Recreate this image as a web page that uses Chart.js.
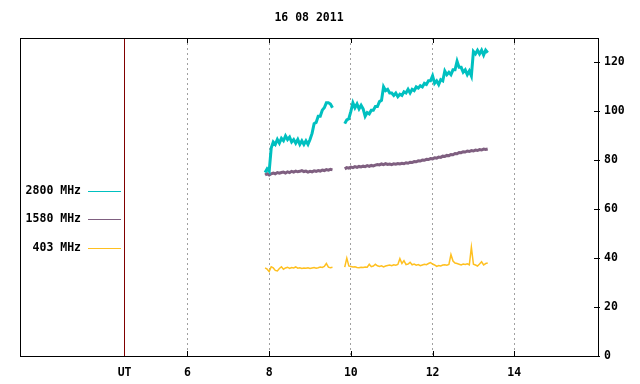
<!DOCTYPE html>
<html>
<head>
<meta charset="utf-8">
<script src="https://cdn.jsdelivr.net/npm/chart.js@4/dist/chart.umd.min.js"></script>
<style>
  html, body { margin: 0; padding: 0; background: #fff; }
  #radioChart { display: block; }
</style>
</head>
<body>
<canvas id="radioChart" width="640" height="384"></canvas>
<script>
const chartTitle = '16 08 2011';
const seriesNames = ['2800 MHz', '1580 MHz', '403 MHz'];
const seriesColors = ['#00c0c0', '#7f5f80', '#ffc020'];
const segStarts = [7.90, 9.85];
const step = 0.05;
const gapAt = 9.7;
const xTicks = [6, 8, 10, 12, 14];
const utPos = 4.46;
const yTicks = [0, 20, 40, 60, 80, 100, 120];

const mhz2800a = [75, 76.5, 75.5, 85, 87.5, 86.5, 88.5, 87, 89, 88,
  90, 88.5, 89.5, 87.5, 88.5, 87, 88.5, 86.5, 88, 86.5,
  88, 86.5, 88.5, 91, 95, 95.5, 98, 98, 100.5, 101.5,
  103.5, 103.5, 103, 101.5];
const mhz2800b = [95, 96.5, 97, 100,
  103.5, 101.5, 103, 101, 102.5, 101, 98, 99.5, 99, 100.5,
  100.5, 102, 102, 104, 104.5, 110, 108.5, 109, 107.5, 107.5,
  106.5, 107.5, 106, 107, 106.5, 108, 107.5, 109, 107.5, 109,
  108.5, 110, 109.5, 110.5, 110, 111.5, 111, 112.5, 112.5, 114.5,
  111.5, 112.5, 111, 113, 112.5, 116.5, 115, 116, 115, 117,
  117, 120.5, 118, 118, 116, 117, 115, 116.5, 114.5, 124.5,
  123.5, 125, 123.5, 125, 123, 125, 124];

const mhz1580a = [74, 74.5, 74, 74.5, 74.8, 74.5, 75, 74.7, 75, 75.2,
  74.8, 75.3, 75, 75.5, 75.2, 75.6, 75.3, 75.5, 75.8, 75.4,
  75.6, 75.2, 75.5, 75.3, 75.7, 75.5, 75.8, 75.6, 76, 75.8,
  76.2, 76, 76.3, 76.1];
const mhz1580b = [76.5, 77, 76.8, 77.2,
  77, 77.4, 77.1, 77.5, 77.3, 77.6, 77.4, 77.8, 77.5, 77.9,
  77.7, 78, 78.3, 78.1, 78.5, 78.2, 78.6, 78.3, 78.5, 78.2,
  78.6, 78.4, 78.7, 78.5, 78.8, 78.6, 79, 78.8, 79.2, 79.1,
  79.5, 79.4, 79.8, 79.7, 80.1, 80, 80.4, 80.3, 80.7, 80.6,
  81, 80.9, 81.3, 81.2, 81.7, 81.6, 82, 81.9, 82.4, 82.3,
  82.8, 82.7, 83.2, 83.1, 83.5, 83.4, 83.8, 83.6, 84, 83.8,
  84.2, 84, 84.4, 84.2, 84.6, 84.4, 84.6];

const mhz403a = [36, 35.5, 34.5, 36.5, 36, 35, 34.8, 35.8, 36.5, 35.5,
  36, 36.3, 35.8, 36.2, 36, 36.4, 35.9, 36.1, 35.8, 36,
  35.9, 36.1, 35.8, 36, 36.2, 35.9, 36.1, 36.4, 36.2, 36.6,
  37.8, 36.3, 36.1, 36.3];
const mhz403b = [36.3, 40, 36.8, 36.6,
  36.4, 36.5, 36.2, 36.1, 36.3, 36.2, 36.4, 36.3, 37.5, 36.5,
  36.8, 37.5, 36.9, 36.6, 36.9, 36.4, 36.8, 37, 37.2, 36.9,
  37.3, 37.1, 37.4, 39.8, 37.8, 39, 37.4, 37.6, 38.3, 37.3,
  37.6, 37.1, 37.4, 36.9, 37.2, 37.5, 37.3, 37.8, 38.2, 37.6,
  37.2, 36.6, 37, 36.8, 37.2, 37.3, 37.1, 37.4, 41.5, 38.8,
  38, 37.8, 37.5, 37.2, 37.6, 37.4, 37.7, 37.3, 44.5, 37.5,
  37.2, 36.8, 37.6, 38.5, 37.2, 37.8, 38];

// join the two segments with a null so the line breaks
function toPoints(a, b) {
  const pts = a.map((v, i) => ({ x: segStarts[0] + i * step, y: v }));
  pts.push({ x: gapAt, y: null });
  b.forEach((v, i) => pts.push({ x: segStarts[1] + i * step, y: v }));
  return pts;
}

const monoFont = { family: 'DejaVu Sans Mono', size: 11.5, weight: 'bold' };

// frame, inward ticks, title and the left-hand legend (gnuplot style)
const gnuplotDecor = {
  id: 'gnuplotDecor',
  afterDraw(chart) {
    const { ctx, chartArea: a, scales } = chart;
    ctx.save();
    ctx.strokeStyle = '#000';
    ctx.lineWidth = 1;
    ctx.strokeRect(Math.round(a.left) + 0.5, Math.round(a.top) + 0.5,
      Math.round(a.right - a.left), Math.round(a.bottom - a.top));

    ctx.beginPath();
    xTicks.forEach(v => {
      const x = Math.round(scales.x.getPixelForValue(v)) + 0.5;
      ctx.moveTo(x, a.bottom); ctx.lineTo(x, a.bottom - 5);
      ctx.moveTo(x, a.top); ctx.lineTo(x, a.top + 5);
    });
    yTicks.forEach(v => {
      const y = Math.round(scales.y.getPixelForValue(v)) + 0.5;
      ctx.moveTo(a.right - 4, y); ctx.lineTo(a.right + 2, y);
    });
    ctx.stroke();

    ctx.font = `bold ${monoFont.size}px ${monoFont.family}`;
    ctx.fillStyle = '#000';
    ctx.textAlign = 'center';
    ctx.textBaseline = 'middle';
    ctx.fillText(chartTitle, (a.left + a.right) / 2, 18);

    const legendY = [191, 219, 248];
    ctx.textAlign = 'right';
    chart.data.datasets.forEach((ds, i) => {
      ctx.fillStyle = '#000';
      ctx.fillText(ds.label, 81, legendY[i]);
      ctx.strokeStyle = ds.borderColor;
      ctx.beginPath();
      ctx.moveTo(88, legendY[i] + 0.5);
      ctx.lineTo(121, legendY[i] + 0.5);
      ctx.stroke();
    });
    ctx.restore();
  }
};

const ctx = document.getElementById('radioChart').getContext('2d');
const radioChart = new Chart(ctx, {
  type: 'line',
  data: {
    datasets: [
      { label: seriesNames[0], data: toPoints(mhz2800a, mhz2800b), borderColor: seriesColors[0], borderWidth: 3 },
      { label: seriesNames[1], data: toPoints(mhz1580a, mhz1580b), borderColor: seriesColors[1], borderWidth: 3 },
      { label: seriesNames[2], data: toPoints(mhz403a, mhz403b), borderColor: seriesColors[2], borderWidth: 1.5 }
    ]
  },
  options: {
    responsive: false,
    animation: false,
    devicePixelRatio: 1,
    spanGaps: false,
    elements: { point: { radius: 0 }, line: { tension: 0, fill: false } },
    layout: { padding: { left: 20, top: 38, right: 0, bottom: 0 } },
    plugins: { legend: { display: false }, title: { display: false }, tooltip: { enabled: false } },
    scales: {
      x: {
        type: 'linear',
        position: 'bottom',
        min: 1.9,
        max: 16.05,
        afterBuildTicks: s => { s.ticks = [utPos].concat(xTicks).map(v => ({ value: v })); },
        afterFit: s => { s.height = 28; },
        ticks: {
          color: '#000',
          font: monoFont,
          padding: 10,
          maxRotation: 0,
          autoSkip: false,
          callback: v => (v === utPos ? 'UT' : v)
        },
        grid: {
          drawTicks: false,
          lineWidth: 1,
          color: c => (c.tick && c.tick.value === utPos ? '#800000' : '#a0a0a0')
        },
        border: {
          display: false,
          dash: c => (c.tick && c.tick.value !== utPos ? [2, 3] : [])
        }
      },
      y: {
        position: 'right',
        min: 0,
        max: 130,
        afterBuildTicks: s => { s.ticks = yTicks.map(v => ({ value: v })); },
        afterFit: s => { s.width = 42; },
        ticks: { color: '#000', font: monoFont, padding: 6 },
        grid: { display: false, drawTicks: false },
        border: { display: false }
      }
    }
  },
  plugins: [gnuplotDecor]
});
</script>
</body>
</html>
